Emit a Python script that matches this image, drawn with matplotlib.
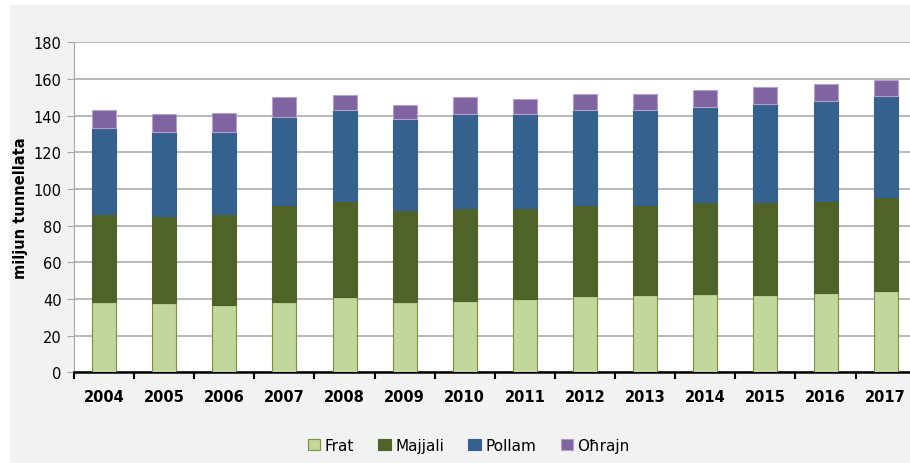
import matplotlib
matplotlib.use("Agg")
import matplotlib.pyplot as plt
from matplotlib.patches import Rectangle
import numpy as np

years = ["2004", "2005", "2006", "2007", "2008", "2009", "2010",
         "2011", "2012", "2013", "2014", "2015", "2016", "2017"]
frat = [38.5, 37.8, 36.7, 38.5, 41.3, 38.5, 39.1, 39.8, 41.5, 42.4, 42.7, 42.4, 43.1, 44.5]
majjali = [47.7, 47.5, 49.5, 52.9, 52.3, 49.9, 50.7, 50.0, 49.9, 49.0, 50.2, 50.5, 50.5, 51.3]
pollam = [47.1, 45.7, 44.8, 48.0, 49.7, 49.6, 50.9, 50.9, 51.9, 51.9, 52.0, 53.3, 54.2, 54.9]
ohrajn = [10.0, 9.9, 10.6, 10.6, 8.2, 8.0, 9.3, 8.6, 8.3, 8.3, 8.9, 9.3, 9.3, 8.6]

series = [
    ("Frat", frat, "#c3d69b", "#77933c"),
    ("Majjali", majjali, "#4f6228", "#4f6228"),
    ("Pollam", pollam, "#35618f", "#35618f"),
    ("Oħrajn", ohrajn, "#8064a2", "#b3a2c7"),
]

fig = plt.figure(figsize=(9.1, 4.64), dpi=100)
fig.patch.set_facecolor("white")
# grey chart area with a thin white margin on the left and top
fig.add_artist(Rectangle((10 / 910, 0), 1, (464 - 6) / 464, transform=fig.transFigure,
                         facecolor="#f2f2f2", edgecolor="none", zorder=0))

ax = fig.add_axes([0.0813, 0.1955, 0.925, 0.7112])
ax.set_facecolor("white")

x = np.arange(len(years))
bottom = np.zeros(len(years))
for name, vals, color, edge in series:
    ax.bar(x, vals, width=0.4, bottom=bottom, color=color, edgecolor=edge,
           linewidth=0.8, label=name, zorder=3)
    bottom += np.array(vals)

ax.set_xlim(-0.5, len(years) - 0.5)
ax.set_ylim(0, 180)
ax.set_yticks(np.arange(0, 181, 20))
ax.yaxis.grid(True, color="#a6a6a6", linewidth=1.1, zorder=0)
ax.set_axisbelow(True)

ax.set_xticks(x)
ax.set_xticklabels(years, fontweight="bold", fontsize=10.5)
ax.set_xticks(np.arange(-0.5, len(years), 1), minor=True)
ax.tick_params(axis="x", which="major", length=0, pad=12)
ax.tick_params(axis="x", which="minor", length=5, width=1.5, color="black", direction="out")
ax.tick_params(axis="y", length=5, color="#a6a6a6", labelsize=10.5, pad=4)

for s in ["top", "right"]:
    ax.spines[s].set_visible(False)
ax.spines["left"].set_color("#a6a6a6")
ax.spines["bottom"].set_color("black")
ax.spines["bottom"].set_linewidth(1.8)

ax.set_ylabel("miljun tunnellata", fontweight="bold", fontsize=10.5, labelpad=4)

fig.legend(loc="center", bbox_to_anchor=(0.515, 0.038), ncol=4, frameon=False,
           fontsize=11, handlelength=0.8, handleheight=0.8, handletextpad=0.3,
           columnspacing=1.6)

fig.savefig("out.png", dpi=100, facecolor=fig.get_facecolor())
